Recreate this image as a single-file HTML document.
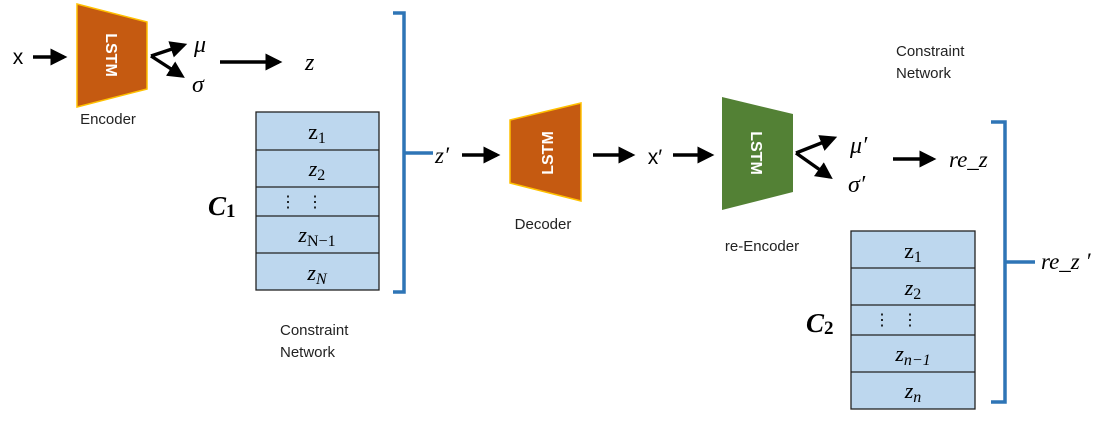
<!DOCTYPE html>
<html><head><meta charset="utf-8"><style>
html,body{margin:0;padding:0;background:#fff;}
svg{display:block;}
.s{font-family:"Liberation Sans",sans-serif;}
.m{font-family:"Liberation Serif",serif;font-style:italic;}
.r{font-family:"Liberation Serif",serif;}
</style></head><body>
<svg width="1115" height="435" viewBox="0 0 1115 435" xmlns="http://www.w3.org/2000/svg">
<defs>
<marker id="a" markerWidth="6" markerHeight="6" refX="4" refY="3" orient="auto" markerUnits="strokeWidth">
<path d="M0,0.5 L5,3 L0,5.5 Z" fill="#000"/></marker>
</defs>
<g stroke="#000" stroke-width="3.4" fill="none" marker-end="url(#a)">
<line x1="33" y1="57" x2="64" y2="57"/>
<line x1="151" y1="56" x2="184" y2="45"/>
<line x1="151" y1="56" x2="182" y2="76"/>
<line x1="220" y1="62" x2="279" y2="62"/>
<line x1="462" y1="155" x2="497" y2="155"/>
<line x1="593" y1="155" x2="632" y2="155"/>
<line x1="673" y1="155" x2="711" y2="155"/>
<line x1="796" y1="153" x2="834" y2="138"/>
<line x1="796" y1="153" x2="830" y2="177"/>
<line x1="893" y1="159" x2="933" y2="159"/>
</g>
<!-- Encoder -->
<polygon points="77,4 147,22 147,89 77,107" fill="#c55a11" stroke="#ffc000" stroke-width="1.5"/>
<text class="s" x="0" y="0" transform="translate(106,55) rotate(90)" text-anchor="middle" font-size="16" font-weight="bold" fill="#fff">LSTM</text>
<text class="s" x="108" y="124" text-anchor="middle" font-size="15" fill="#222">Encoder</text>
<text class="s" x="18" y="64" text-anchor="middle" font-size="21">x</text>
<text class="m" x="194" y="52" font-size="24">μ</text>
<text class="m" x="192" y="92" font-size="24">σ</text>
<text class="m" x="305" y="70" font-size="24">z</text>
<!-- Table C1 -->
<g stroke="#222" stroke-width="1.3" fill="#bdd7ee">
<rect x="256" y="112" width="123" height="178"/>
<line x1="256" y1="150" x2="379" y2="150"/><line x1="256" y1="187" x2="379" y2="187"/>
<line x1="256" y1="216" x2="379" y2="216"/><line x1="256" y1="253" x2="379" y2="253"/>
</g>
<g class="r" font-size="22" text-anchor="middle">
<text x="317" y="139">z<tspan font-size="16" dy="4">1</tspan></text>
<text x="317" y="176" class="m">z<tspan class="r" font-style="normal" font-size="16" dy="4">2</tspan></text>
<text x="317" y="242" class="m">z<tspan class="r" font-style="normal" font-size="16" dy="4">N−1</tspan></text>
<text x="317" y="280" class="m">z<tspan font-size="16" dy="4">N</tspan></text>
</g>
<text class="r" x="280" y="207" font-size="16">⋮</text><text class="r" x="307" y="207" font-size="16">⋮</text>
<text class="m" x="208" y="215" font-size="27" font-weight="bold">C<tspan class="r" font-style="normal" font-size="19" dy="2">1</tspan></text>
<!-- bracket1 -->
<path d="M393,13 H404 V292 H393 M404,153 H433" stroke="#2e75b6" stroke-width="3.5" fill="none"/>
<text class="m" x="435" y="163" font-size="23">z′</text>
<!-- Decoder -->
<polygon points="510,120 581,103 581,201 510,183" fill="#c55a11" stroke="#ffc000" stroke-width="1.5"/>
<text class="s" x="0" y="0" transform="translate(553,153) rotate(-90)" text-anchor="middle" font-size="16" font-weight="bold" fill="#fff">LSTM</text>
<text class="s" x="543" y="229" text-anchor="middle" font-size="15" fill="#222">Decoder</text>
<text class="s" x="655" y="164" text-anchor="middle" font-size="21">x′</text>
<!-- re-Encoder -->
<polygon points="722,97 793,114 793,192 722,210" fill="#538135"/>
<text class="s" x="0" y="0" transform="translate(751,153) rotate(90)" text-anchor="middle" font-size="16" font-weight="bold" fill="#fff">LSTM</text>
<text class="s" x="762" y="251" text-anchor="middle" font-size="15" fill="#222">re-Encoder</text>
<text class="m" x="850" y="153" font-size="24">μ′</text>
<text class="m" x="848" y="192" font-size="24">σ′</text>
<text class="m" x="949" y="167" font-size="23">re_z</text>
<text class="s" x="896" y="56" font-size="15" fill="#222">Constraint</text>
<text class="s" x="896" y="78" font-size="15" fill="#222">Network</text>
<text class="s" x="280" y="335" font-size="15" fill="#222">Constraint</text>
<text class="s" x="280" y="357" font-size="15" fill="#222">Network</text>
<!-- Table C2 -->
<g stroke="#222" stroke-width="1.3" fill="#bdd7ee">
<rect x="851" y="231" width="124" height="178"/>
<line x1="851" y1="268" x2="975" y2="268"/><line x1="851" y1="305" x2="975" y2="305"/>
<line x1="851" y1="335" x2="975" y2="335"/><line x1="851" y1="372" x2="975" y2="372"/>
</g>
<g class="r" font-size="22" text-anchor="middle">
<text x="913" y="258">z<tspan font-size="16" dy="4">1</tspan></text>
<text x="913" y="295" class="m">z<tspan class="r" font-style="normal" font-size="16" dy="4">2</tspan></text>
<text x="913" y="361" class="m">z<tspan font-size="16" dy="4">n−1</tspan></text>
<text x="913" y="398" class="m">z<tspan font-size="16" dy="4">n</tspan></text>
</g>
<text class="r" x="874" y="325" font-size="16">⋮</text><text class="r" x="902" y="325" font-size="16">⋮</text>
<text class="m" x="806" y="332" font-size="27" font-weight="bold">C<tspan class="r" font-style="normal" font-size="19" dy="2">2</tspan></text>
<!-- bracket2 -->
<path d="M991,122 H1005 V402 H991 M1005,262 H1035" stroke="#2e75b6" stroke-width="3.5" fill="none"/>
<text class="m" x="1041" y="269" font-size="23">re_z ′</text>
</svg>
</body></html>
